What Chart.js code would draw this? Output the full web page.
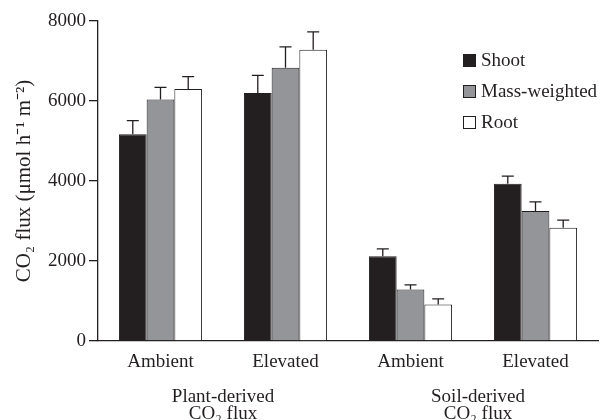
<!DOCTYPE html>
<html>
<head>
<meta charset="utf-8">
<script src="https://cdn.jsdelivr.net/npm/chart.js@4"></script>
<style>
  html, body { margin: 0; padding: 0; background: #fff; }
  #wrap { width: 603px; height: 420px; position: relative; }
</style>
</head>
<body>
<div id="wrap"><canvas id="fluxChart"></canvas></div>
<script>
const categories = ['Ambient', 'Elevated', 'Ambient', 'Elevated'];
const groups = [['Plant-derived', 'CO\u2082 flux'], ['Soil-derived', 'CO\u2082 flux']];
const seriesNames = ['Shoot', 'Mass-weighted', 'Root'];
const shootValues = [5170, 6200, 2120, 3930];
const shootErrors = [340, 440, 185, 190];
const massValues = [6040, 6830, 1290, 3250];
const massErrors = [300, 525, 115, 230];
const rootValues = [6300, 7280, 915, 2830];
const rootErrors = [310, 450, 140, 190];
const yTicks = [0, 2000, 4000, 6000, 8000];

const ink = '#231f20';
const fontFamily = '"Liberation Serif", "Times New Roman", serif';

// error bars, upward only
const errorBars = {
    id: 'errorBars',
    afterDatasetsDraw(chart) {
        const ctx = chart.ctx;
        const y = chart.scales.y;
        ctx.save();
        ctx.strokeStyle = ink;
        ctx.lineWidth = 1.3;
        chart.data.datasets.forEach((ds, i) => {
            const meta = chart.getDatasetMeta(i);
            meta.data.forEach((bar, j) => {
                const top = y.getPixelForValue(ds.data[j] + ds.errors[j]);
                ctx.beginPath();
                ctx.moveTo(bar.x, bar.y);
                ctx.lineTo(bar.x, top);
                ctx.moveTo(bar.x - 6, top);
                ctx.lineTo(bar.x + 6, top);
                ctx.stroke();
            });
        });
        ctx.restore();
    }
};

// legend block inside the plot and the two group captions under the axis
const extraText = {
    id: 'extraText',
    afterDraw(chart) {
        const ctx = chart.ctx;
        const x = chart.scales.x;
        ctx.save();
        ctx.font = '19px ' + fontFamily;
        ctx.fillStyle = ink;
        ctx.textBaseline = 'middle';
        chart.data.datasets.forEach((ds, i) => {
            const cy = 61 + i * 31;
            ctx.fillStyle = ds.backgroundColor;
            ctx.fillRect(463.5, cy - 6.5, 12, 12);
            ctx.strokeStyle = ink;
            ctx.lineWidth = 1;
            ctx.strokeRect(463.5, cy - 6.5, 12, 12);
            ctx.fillStyle = ink;
            ctx.textAlign = 'left';
            ctx.fillText(ds.label, 481, cy);
        });
        ctx.textAlign = 'center';
        groups.forEach((g, k) => {
            const cx = (x.getPixelForValue(k * 2) + x.getPixelForValue(k * 2 + 1)) / 2 + (k === 1 ? 5 : 0);
            ctx.fillText(g[0], cx, 397);
            ctx.fillText(g[1], cx, 414);
        });
        ctx.restore();
    }
};

Chart.defaults.font.family = fontFamily;
Chart.defaults.font.size = 19;
Chart.defaults.color = ink;

new Chart(document.getElementById('fluxChart'), {
    type: 'bar',
    data: {
        labels: categories,
        datasets: [
            { label: seriesNames[0], data: shootValues, errors: shootErrors, backgroundColor: '#231f20' },
            { label: seriesNames[1], data: massValues, errors: massErrors, backgroundColor: '#939598' },
            { label: seriesNames[2], data: rootValues, errors: rootErrors, backgroundColor: '#ffffff' }
        ]
    },
    options: {
        responsive: true,
        maintainAspectRatio: false,
        animation: false,
        datasets: {
            bar: {
                borderColor: ink,
                borderWidth: 1,
                categoryPercentage: 0.665,
                barPercentage: 1
            }
        },
        layout: { padding: { top: 21, right: 5, left: 0, bottom: 0 } },
        scales: {
            x: {
                grid: { display: false },
                border: { display: true, color: ink, width: 1.3 },
                ticks: { padding: 2, maxRotation: 0 },
                afterFit(scale) { scale.height = 79; }
            },
            y: {
                min: 0,
                max: 8000,
                afterBuildTicks(scale) { scale.ticks = yTicks.map(v => ({ value: v })); },
                grid: { drawOnChartArea: false, drawTicks: true, tickLength: 9, color: ink, lineWidth: 1.3 },
                border: { display: true, color: ink, width: 1.3 },
                ticks: { padding: 3, callback: v => String(v) },
                title: {
                    display: true,
                    text: 'CO\u2082 flux (\u03bcmol h\u207b\u00b9 m\u207b\u00b2)',
                    font: { size: 21 },
                    padding: { top: 12, bottom: 0 }
                },
                afterFit(scale) { scale.width = 98; }
            }
        },
        plugins: {
            legend: { display: false },
            tooltip: { enabled: false }
        }
    },
    plugins: [errorBars, extraText]
});
</script>
</body>
</html>
